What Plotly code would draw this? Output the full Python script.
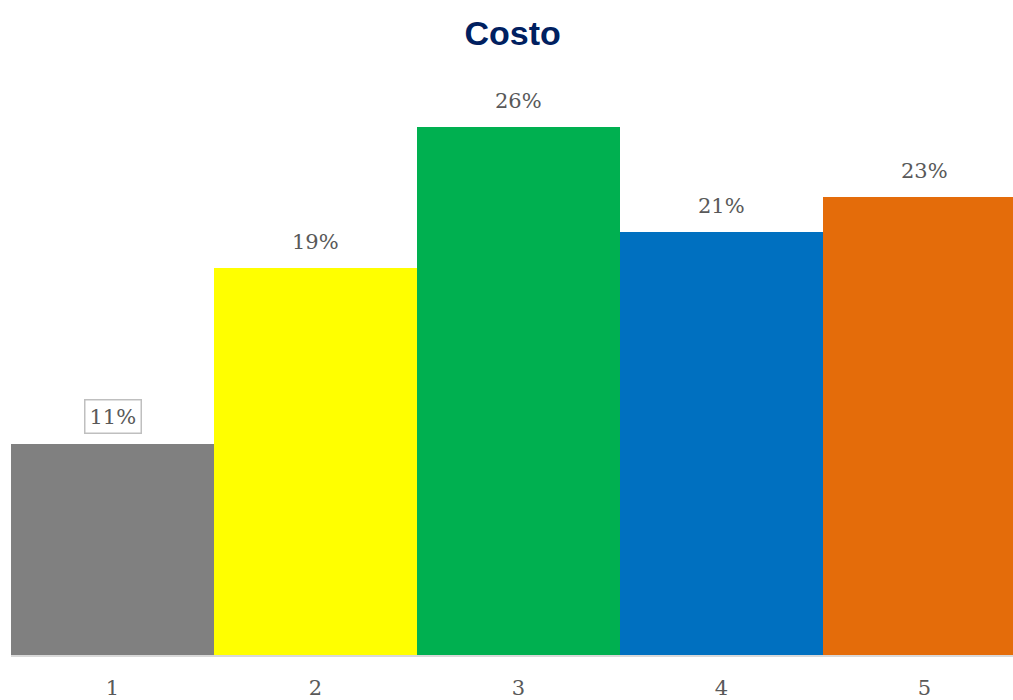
import plotly.graph_objects as go

categories = ["1", "2", "3", "4", "5"]
values = [0.105, 0.193, 0.263, 0.211, 0.228]
labels = ["11%", "19%", "26%", "21%", "23%"]
colors = ["#808080", "#FFFF00", "#00B050", "#0070C0", "#E46C0A"]

xs = [1, 2, 3, 4, 5]

fig = go.Figure()
fig.add_trace(go.Bar(x=xs, y=values, marker=dict(color=colors, line=dict(width=0)),
                     width=1.0, hoverinfo="skip"))

for i, (x, v, t) in enumerate(zip(xs, values, labels)):
    boxed = (i == 0)
    fig.add_annotation(x=x, y=v, text=t, showarrow=False, yanchor="bottom",
                       yshift=10 if boxed else 10,
                       font=dict(family="DejaVu Serif", size=21, color="#595959"),
                       bordercolor="#BFBFBF" if boxed else "rgba(0,0,0,0)",
                       borderwidth=1.5 if boxed else 0, borderpad=4,
                       bgcolor="white" if boxed else "rgba(0,0,0,0)")

fig.update_layout(
    width=1013, height=700,
    margin=dict(l=11, r=0, t=80, b=42),
    paper_bgcolor="white", plot_bgcolor="white",
    bargap=0, showlegend=False,
    title=dict(text="<b>Costo</b>", x=0.506, xanchor="center", y=0.953, yanchor="middle",
               font=dict(family="Liberation Sans", size=34, color="#002060")),
    xaxis=dict(range=[0.5, 5.436], tickmode="array", tickvals=xs, ticktext=categories,
               showgrid=False, zeroline=False, showline=True, linecolor="#D9D9D9", linewidth=2,
               ticks="", ticklabelstandoff=13,
               tickfont=dict(family="DejaVu Serif", size=21, color="#595959")),
    yaxis=dict(range=[0, 0.2865], visible=False, showgrid=False, zeroline=False),
)

fig.write_html("out.html", config={"displayModeBar": False},
               post_script="document.body.style.margin='0';document.body.style.overflow='hidden';")
